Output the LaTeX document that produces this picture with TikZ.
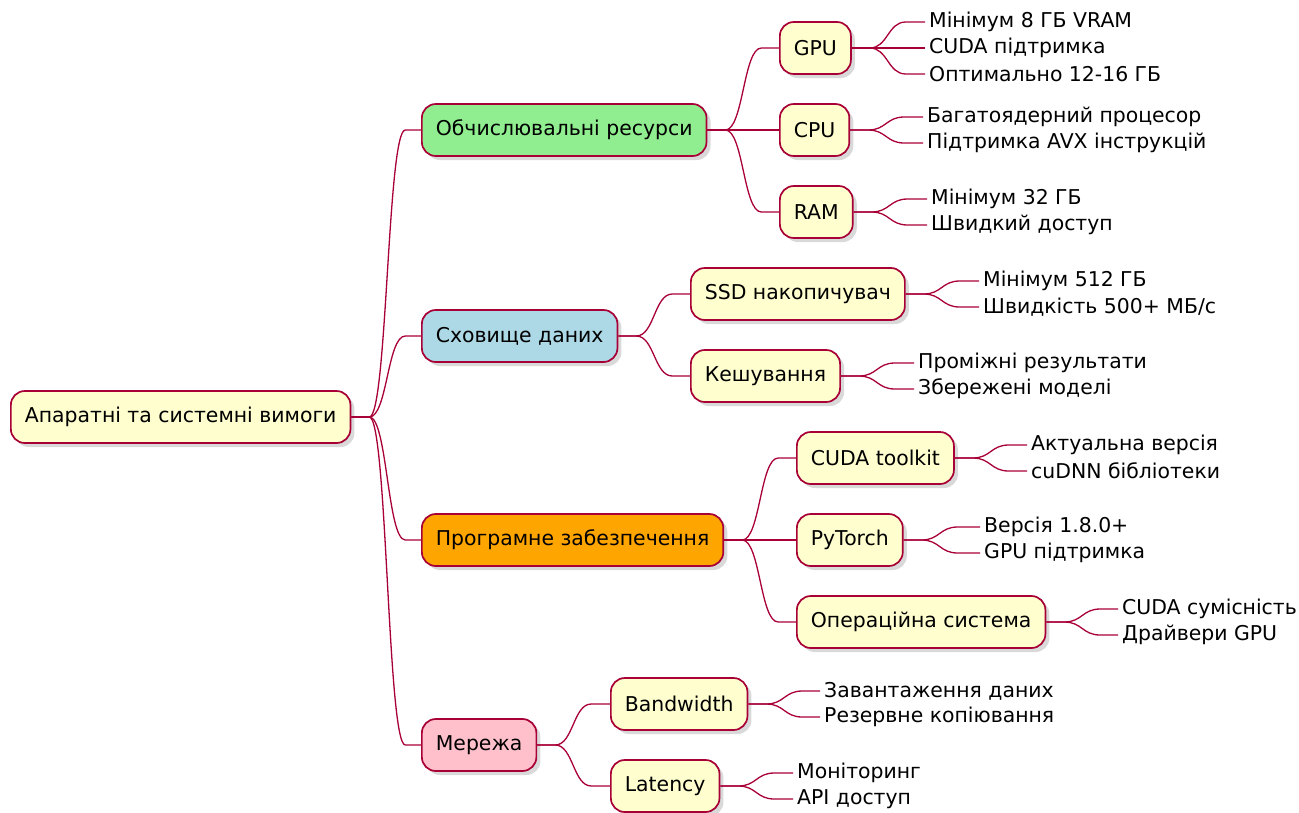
\documentclass[tikz,border=0pt]{standalone}
\usepackage{fontspec}
\setmainfont{DejaVu Sans}
\usetikzlibrary{calc,shadows}
\definecolor{edge}{HTML}{A80036}
\definecolor{boxfill}{HTML}{FEFECE}
\definecolor{cgreen}{HTML}{90EE90}
\definecolor{cblue}{HTML}{ADD8E6}
\definecolor{corange}{HTML}{FFA500}
\definecolor{cpink}{HTML}{FFC0CB}
\tikzset{
  txt/.style={font=\fontsize{20.4}{24}\selectfont, text=black},
  box/.style={txt, draw=edge, line width=1.7pt, fill=boxfill, rounded corners=14pt,
    minimum height=52pt, inner xsep=14pt, anchor=west,
    drop shadow={opacity=0.3, shadow xshift=4pt, shadow yshift=-4pt}},
  leaf/.style={txt, anchor=west, inner xsep=4pt, inner ysep=0pt},
  link/.style={draw=edge, line width=1.3pt}
}
% branch connector: short stub, S-curve, straight run into the child
\newcommand\conn[2]{%
  \draw[link] let \p1=(#1.east), \p2=(#2.west) in
    (\p1) -- (\x1+18pt,\y1) .. controls (\x1+36pt,\y1) and (\x1+36pt,\y2) ..
    (\x1+54pt,\y2) -- (\p2);}
\begin{document}
\begin{tikzpicture}[x=1pt,y=-1pt]
\useasboundingbox (0,0) rectangle (1299,812);

% root and main branches
\node[box] (root) at (10,417) {Апаратні та системні вимоги};
\node[box, fill=cgreen] (comp) at (421,130) {Обчислювальні ресурси};
\node[box, fill=cblue] (store) at (421,336) {Сховище даних};
\node[box, fill=corange] (soft) at (421,540) {Програмне забезпечення};
\node[box, fill=cpink] (net) at (421,745) {Мережа};

% second level
\node[box] (gpu) at (779,48) {GPU};
\node[box] (cpu) at (779,130) {CPU};
\node[box] (ram) at (779,212) {RAM};
\node[box] (ssd) at (690,294) {SSD накопичувач};
\node[box] (cache) at (690,376) {Кешування};
\node[box] (cuda) at (796,458) {CUDA toolkit};
\node[box] (torch) at (796,540) {PyTorch};
\node[box] (os) at (796,622) {Операційна система};
\node[box] (bw) at (610,704) {Bandwidth};
\node[box] (lat) at (610,786) {Latency};

% leaves
\node[leaf] (gpu1) at (925,22) {Мінімум 8 ГБ VRAM};
\node[leaf] (gpu2) at (925,48) {CUDA підтримка};
\node[leaf] (gpu3) at (925,74) {Оптимально 12-16 ГБ};
\node[leaf] (cpu1) at (923,117) {Багатоядерний процесор};
\node[leaf] (cpu2) at (923,143) {Підтримка AVX інструкцій};
\node[leaf] (ram1) at (927,199) {Мінімум 32 ГБ};
\node[leaf] (ram2) at (927,225) {Швидкий доступ};
\node[leaf] (ssd1) at (979,281) {Мінімум 512 ГБ};
\node[leaf] (ssd2) at (979,307) {Швидкість 500+ МБ/с};
\node[leaf] (cache1) at (914,363) {Проміжні результати};
\node[leaf] (cache2) at (914,389) {Збережені моделі};
\node[leaf] (cuda1) at (1027,445) {Актуальна версія};
\node[leaf] (cuda2) at (1027,471) {cuDNN бібліотеки};
\node[leaf] (torch1) at (980,527) {Версія 1.8.0+};
\node[leaf] (torch2) at (980,553) {GPU підтримка};
\node[leaf] (os1) at (1118,609) {CUDA сумісність};
\node[leaf] (os2) at (1118,635) {Драйвери GPU};
\node[leaf] (bw1) at (820,691) {Завантаження даних};
\node[leaf] (bw2) at (820,717) {Резервне копіювання};
\node[leaf] (lat1) at (793,773) {Моніторинг};
\node[leaf] (lat2) at (793,799) {API доступ};

% connectors
\conn{root}{comp}\conn{root}{store}\conn{root}{soft}\conn{root}{net}
\conn{comp}{gpu}\conn{comp}{cpu}\conn{comp}{ram}
\conn{store}{ssd}\conn{store}{cache}
\conn{soft}{cuda}\conn{soft}{torch}\conn{soft}{os}
\conn{net}{bw}\conn{net}{lat}
\conn{gpu}{gpu1}\conn{gpu}{gpu2}\conn{gpu}{gpu3}
\conn{cpu}{cpu1}\conn{cpu}{cpu2}
\conn{ram}{ram1}\conn{ram}{ram2}
\conn{ssd}{ssd1}\conn{ssd}{ssd2}
\conn{cache}{cache1}\conn{cache}{cache2}
\conn{cuda}{cuda1}\conn{cuda}{cuda2}
\conn{torch}{torch1}\conn{torch}{torch2}
\conn{os}{os1}\conn{os}{os2}
\conn{bw}{bw1}\conn{bw}{bw2}
\conn{lat}{lat1}\conn{lat}{lat2}
\end{tikzpicture}
\end{document}
